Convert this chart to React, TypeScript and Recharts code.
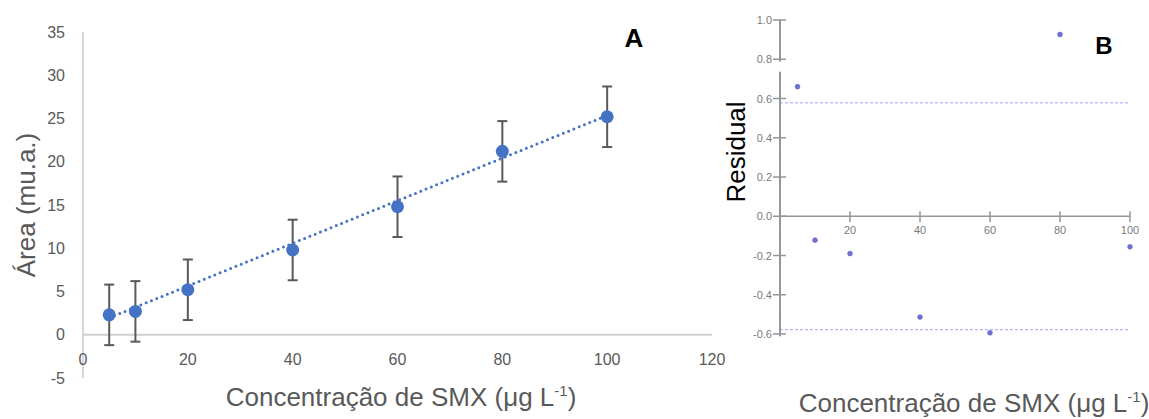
import React from 'react';
import {
  ComposedChart,
  ScatterChart,
  Scatter,
  XAxis,
  YAxis,
  ErrorBar,
  ReferenceLine,
} from 'recharts';

// ---------- Panel A data ----------
const concentrations = [5, 10, 20, 40, 60, 80, 100];
const areaMeans = [2.3, 2.7, 5.2, 9.8, 14.8, 21.2, 25.2];
const areaErrors = [3.5, 3.5, 3.5, 3.5, 3.5, 3.5, 3.5];
const trendX = [5, 100];
const trendY = [1.95, 25.35];
const leftXTicks = [0, 20, 40, 60, 80, 100, 120];
const leftYTicks = [-5, 0, 5, 10, 15, 20, 25, 30, 35];
const leftXDomain: [number, number] = [0, 120];
const leftYDomain: [number, number] = [-5, 35];

// ---------- Panel B data ----------
const residualX = [5, 10, 20, 40, 60, 80, 100];
const residualY = [0.66, -0.122, -0.19, -0.514, -0.594, 0.926, -0.156];
const residualLimits = [0.578, -0.578];
const rightXTicks = [20, 40, 60, 80, 100];
const rightYTicks = [-0.6, -0.4, -0.2, 0.0, 0.2, 0.4, 0.6, 0.8, 1.0];
const rightXDomain: [number, number] = [0, 100];
const rightYDomain: [number, number] = [-0.6, 1.0];
// visible pieces of the (broken) residual axis line
const axisPieces: [number, number][] = [
  [-0.61, 0.735],
  [0.79, 1.0],
];

const FONT = '"Liberation Sans", Arial, sans-serif';
const GREY_TEXT = '#595959';
const AXIS_GREY = '#969696';

const areaData = concentrations.map((x, i) => ({ x, y: areaMeans[i], err: areaErrors[i] }));
const trendData = trendX.map((x, i) => ({ x, y: trendY[i] }));
const residualData = residualX.map((x, i) => ({ x, y: residualY[i] }));

// Layout
const L_W = 740;
const L_H = 419;
const L_MARGIN = { top: 32, right: 28, bottom: 11, left: 43 };
const L_XAXIS_H = 30;
const L_PLOT_H = L_H - L_MARGIN.top - L_MARGIN.bottom - L_XAXIS_H;

const R_W = 449;
const R_H = 419;
const R_MARGIN = { top: 20, right: 19, bottom: 75, left: 40 };
const R_XAXIS_H = 10;
const R_PLOT_H = R_H - R_MARGIN.top - R_MARGIN.bottom - R_XAXIS_H;
const R_PX_PER_UNIT = R_PLOT_H / (rightYDomain[1] - rightYDomain[0]);
const R_TICK_STEP = rightYTicks[1] - rightYTicks[0];

const LeftXTick = (props: any) => {
  const { x, y, payload } = props;
  const zeroY = y - (L_PLOT_H * (0 - leftYDomain[0])) / (leftYDomain[1] - leftYDomain[0]);
  return (
    <text
      x={x}
      y={zeroY + 25}
      textAnchor="middle"
      dominantBaseline="central"
      fontSize={16}
      fontFamily={FONT}
      fill={GREY_TEXT}
    >
      {payload.value}
    </text>
  );
};

// x ticks cross the zero line; the tick at the domain start draws the (broken) residual axis
const RightXTick = (props: any) => {
  const x = Number(props.x);
  const y = Number(props.y);
  const v = Number(props.payload.value);
  const zeroY = y - (0 - rightYDomain[0]) * R_PX_PER_UNIT;
  if (v === rightXDomain[0]) {
    return (
      <g>
        {axisPieces.map(([a, b], i) => (
          <rect
            key={i}
            x={x - 1}
            y={zeroY - b * R_PX_PER_UNIT}
            width={2}
            height={(b - a) * R_PX_PER_UNIT}
            fill={AXIS_GREY}
          />
        ))}
      </g>
    );
  }
  return (
    <g>
      <rect x={x - 0.75} y={zeroY - 5} width={1.5} height={11} fill={AXIS_GREY} />
      <text
        x={x}
        y={zeroY + 14}
        textAnchor="middle"
        dominantBaseline="central"
        fontSize={11}
        fontFamily={FONT}
        fill="#7a7a7a"
      >
        {v}
      </text>
    </g>
  );
};

// Each y tick also draws the part of the axis line around it (half a step each way)
const RightYTick = (props: any) => {
  const x = Number(props.x);
  const y = Number(props.y);
  const v = Number(props.payload.value);
  const lo = v - R_TICK_STEP / 2;
  const hi = v + R_TICK_STEP / 2;
  const pieces = axisPieces
    .map(([a, b]) => [Math.max(a, lo), Math.min(b, hi)])
    .filter(([a, b]) => b > a);
  return (
    <g>
      {pieces.map(([a, b], i) => {
        const yTop = y - (b - v) * R_PX_PER_UNIT;
        const yBot = y + (v - a) * R_PX_PER_UNIT;
        return <rect key={i} x={x - 1} y={yTop - 0.3} width={2} height={yBot - yTop + 0.6} fill={AXIS_GREY} />;
      })}
      <rect x={x - 7} y={y - 0.75} width={13} height={1.5} fill={AXIS_GREY} />
      <text
        x={x - 8}
        y={y}
        textAnchor="end"
        dominantBaseline="central"
        fontSize={11}
        fontFamily={FONT}
        fill="#7a7a7a"
      >
        {v.toFixed(1)}
      </text>
    </g>
  );
};

const NoShape = () => <g />;
const BigDot = (props: any) => <circle cx={props.cx} cy={props.cy} r={6.5} fill="#4472C4" />;
const SmallDot = (props: any) => (
  <circle cx={props.cx} cy={props.cy} r={2.4} fill="#7070d4" stroke="#5c5cc0" strokeWidth={0.6} />
);

export default function App() {
  return (
    <div
      style={{
        position: 'absolute',
        left: 0,
        top: 0,
        width: 1149,
        height: 419,
        background: '#fff',
        overflow: 'hidden',
      }}
    >
      {/* Panel A */}
      <div style={{ position: 'absolute', left: 0, top: 0, width: L_W, height: L_H }}>
        <ComposedChart width={L_W} height={L_H} margin={L_MARGIN}>
          <XAxis
            type="number"
            dataKey="x"
            domain={leftXDomain}
            ticks={leftXTicks}
            interval={0}
            height={L_XAXIS_H}
            axisLine={false}
            tickLine={false}
            tickSize={0}
            tickMargin={0}
            tick={LeftXTick}
            allowDataOverflow
          />
          <YAxis
            type="number"
            dataKey="y"
            domain={leftYDomain}
            ticks={leftYTicks}
            interval={0}
            width={40}
            stroke="#c8c8c8"
            strokeWidth={1.5}
            tickLine={false}
            tickSize={0}
            tickMargin={18}
            tick={{ fill: GREY_TEXT, fontSize: 16, fontFamily: FONT }}
            allowDataOverflow
          />
          <ReferenceLine y={0} stroke="#d0d0d0" strokeWidth={2} />
          <Scatter
            data={trendData}
            shape={NoShape}
            line={{ stroke: '#4472C4', strokeWidth: 3, strokeDasharray: '0 5.7', strokeLinecap: 'round' }}
            isAnimationActive={false}
          />
          <Scatter data={areaData} shape={BigDot} fill="#4472C4" isAnimationActive={false}>
            <ErrorBar dataKey="err" direction="y" width={5} stroke="#595959" strokeWidth={2} />
          </Scatter>
        </ComposedChart>
      </div>

      {/* Panel B */}
      <div style={{ position: 'absolute', left: 700, top: 0, width: R_W, height: R_H }}>
        <ScatterChart width={R_W} height={R_H} margin={R_MARGIN}>
          <XAxis
            type="number"
            dataKey="x"
            domain={rightXDomain}
            ticks={[rightXDomain[0], ...rightXTicks]}
            interval={0}
            height={R_XAXIS_H}
            axisLine={false}
            tickLine={false}
            tickSize={0}
            tickMargin={0}
            tick={RightXTick}
          />
          <YAxis
            type="number"
            dataKey="y"
            domain={rightYDomain}
            ticks={rightYTicks}
            interval={0}
            width={40}
            axisLine={false}
            tickLine={false}
            tickSize={0}
            tickMargin={0}
            tick={RightYTick}
          />
          <ReferenceLine y={0} stroke={AXIS_GREY} strokeWidth={1.5} />
          {residualLimits.map((v) => (
            <ReferenceLine key={v} y={v} stroke="#a0a0ff" strokeWidth={1} strokeDasharray="3 2" />
          ))}
          <Scatter data={residualData} shape={SmallDot} fill="#7070d4" isAnimationActive={false} />
        </ScatterChart>
      </div>

      {/* Titles */}
      <svg
        width={1149}
        height={419}
        style={{ position: 'absolute', left: 0, top: 0, pointerEvents: 'none' }}
        fontFamily={FONT}
      >
        <text
          x={35}
          y={205}
          textAnchor="middle"
          fontSize={26}
          fill={GREY_TEXT}
          transform="rotate(-90 35 205)"
        >
          Área (mu.a.)
        </text>
        <text x={401} y={406} textAnchor="middle" fontSize={26} fill={GREY_TEXT}>
          <tspan>Concentração de SMX (μg L</tspan>
          <tspan fontSize={15} dy={-10}>-1</tspan>
          <tspan dy={10}>)</tspan>
        </text>
        <text x={634} y={47} textAnchor="middle" fontSize={26} fontWeight="bold" fill="#000">
          A
        </text>
        <text
          x={745}
          y={152}
          textAnchor="middle"
          fontSize={26}
          fill="#000"
          transform="rotate(-90 745 152)"
        >
          Residual
        </text>
        <text x={1104} y={54} textAnchor="middle" fontSize={24} fontWeight="bold" fill="#000">
          B
        </text>
        <text x={974} y={412} textAnchor="middle" fontSize={26} fill={GREY_TEXT}>
          <tspan>Concentração de SMX (μg L</tspan>
          <tspan fontSize={15} dy={-10}>-1</tspan>
          <tspan dy={10}>)</tspan>
        </text>
      </svg>
    </div>
  );
}
